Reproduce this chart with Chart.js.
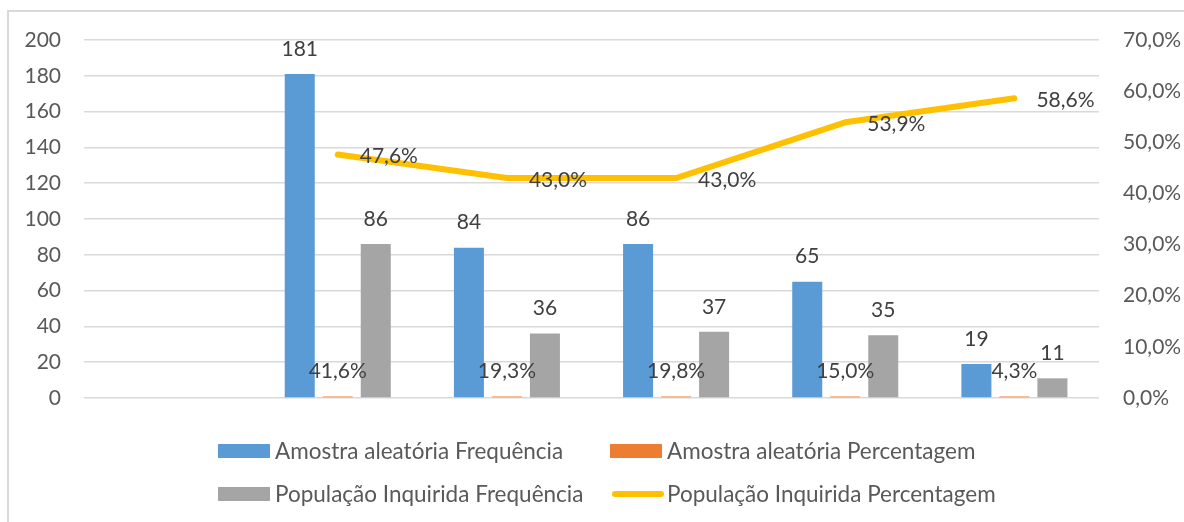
<!DOCTYPE html>
<html>
<head>
<meta charset="utf-8">
<script src="https://cdn.jsdelivr.net/npm/chart.js@4"></script>
<style>
  html, body { margin: 0; padding: 0; background: #fff; overflow: hidden; }
  #wrap { position: relative; width: 1184px; height: 522px; }
  #frame { position: absolute; left: 7px; top: 10px; width: 1300px; height: 700px;
           border-left: 2px solid #d9d9d9; border-top: 2px solid #d9d9d9; pointer-events: none; }
  canvas { position: absolute; left: 0; top: 0; }
  .lg { position: absolute; font: 22.5px Lato, sans-serif; color: #595959; white-space: nowrap; height: 24px; line-height: 24px; }
  .lg .sw { position: absolute; left: 0; top: 5px; width: 52px; height: 14px; }
  .lg .ln { position: absolute; left: 2px; top: 9px; width: 52px; height: 6px; border-radius: 3px; }
  .lg span.t { position: absolute; left: 57px; top: 0; }
</style>
</head>
<body>
<div id="wrap">
  <div id="frame"></div>
  <canvas id="c" width="1184" height="522"></canvas>
  <div id="legend"></div>
</div>
<script>
// ---- data ----
const categories = ["", "", "", "", "", ""];
const amostraFreq = [null, 181, 84, 86, 65, 19];
const amostraPct = [null, 41.6, 19.3, 19.8, 15.0, 4.3];
const populacaoFreq = [null, 86, 36, 37, 35, 11];
const populacaoPct = [null, 47.6, 43.0, 43.0, 53.9, 58.6];
const leftTicks = [0, 20, 40, 60, 80, 100, 120, 140, 160, 180, 200];
const rightTicks = [0, 10, 20, 30, 40, 50, 60, 70];
const seriesNames = ["Amostra aleatória Frequência", "Amostra aleatória Percentagem",
                     "População Inquirida Frequência", "População Inquirida Percentagem"];

const colors = ["#5B9BD5", "#ED7D31", "#A5A5A5", "#FFC000"];
const FONT = "Lato, sans-serif";
const fmtPct = v => v.toFixed(1).replace(".", ",") + "%";

const labelPlugin = {
  id: "valueLabels",
  afterDatasetsDraw(chart) {
    const ctx = chart.ctx;
    ctx.save();
    ctx.font = "21px " + FONT;
    ctx.fillStyle = "#404040";
    chart.data.datasets.forEach((ds, i) => {
      const meta = chart.getDatasetMeta(i);
      meta.data.forEach((el, j) => {
        const raw = ds.labelValues[j];
        if (raw === null || raw === undefined) return;
        const txt = ds.labelFmt(raw);
        if (ds.type === "line") {
          ctx.textAlign = "left";
          ctx.textBaseline = "middle";
          ctx.fillText(txt, el.x + 22, el.y + 2);
        } else {
          ctx.textAlign = "center";
          ctx.textBaseline = "middle";
          ctx.fillText(txt, el.x, el.y - 25);
        }
      });
    });
    ctx.restore();
  }
};

const chart = new Chart(document.getElementById("c"), {
  data: {
    labels: categories,
    datasets: [
      { type: "bar", label: seriesNames[0], data: amostraFreq, backgroundColor: colors[0],
        yAxisID: "y", order: 1, labelValues: amostraFreq, labelFmt: v => String(v) },
      { type: "bar", label: seriesNames[1], data: amostraPct.map(v => v === null ? null : v / 100),
        backgroundColor: colors[1], yAxisID: "y", order: 1, minBarLength: 1.5,
        labelValues: amostraPct, labelFmt: fmtPct },
      { type: "bar", label: seriesNames[2], data: populacaoFreq, backgroundColor: colors[2],
        yAxisID: "y", order: 1, labelValues: populacaoFreq, labelFmt: v => String(v) },
      { type: "line", label: seriesNames[3], data: populacaoPct, borderColor: colors[3],
        backgroundColor: colors[3], borderWidth: 6, pointRadius: 0, tension: 0,
        borderCapStyle: "round", borderJoinStyle: "round",
        yAxisID: "y1", order: 0, labelValues: populacaoPct, labelFmt: fmtPct }
    ]
  },
  options: {
    responsive: false,
    animation: false,
    devicePixelRatio: 1,
    layout: { padding: { left: 0, right: 0, top: 40, bottom: 124 } },
    datasets: { bar: { barPercentage: 0.79, categoryPercentage: 0.674, borderWidth: 0 } },
    plugins: { legend: { display: false }, tooltip: { enabled: false } },
    scales: {
      x: { type: "category", display: false, offset: true },
      y: {
        position: "left", min: 0, max: 200,
        afterFit: s => { s.width = 84; },
        afterBuildTicks: s => { s.ticks = leftTicks.map(v => ({ value: v })); },
        grid: { color: "#d9d9d9", lineWidth: 1.5, drawTicks: false },
        border: { display: false },
        ticks: { padding: 23, color: "#595959", font: { family: FONT, size: 21 } }
      },
      y1: {
        position: "right", min: 0, max: 70,
        afterFit: s => { s.width = 85; },
        afterBuildTicks: s => { s.ticks = rightTicks.map(v => ({ value: v })); },
        grid: { drawOnChartArea: false, drawTicks: false },
        border: { display: false },
        ticks: { padding: 24, color: "#595959", font: { family: FONT, size: 21 },
                 callback: v => fmtPct(v) }
      }
    }
  },
  plugins: [labelPlugin]
});

// ---- legend (HTML) ----
const legendPos = [[218, 439], [610, 439], [218, 482], [610, 482]];
const lg = document.getElementById("legend");
seriesNames.forEach((name, i) => {
  const d = document.createElement("div");
  d.className = "lg";
  d.style.left = legendPos[i][0] + "px";
  d.style.top = legendPos[i][1] + "px";
  const sw = document.createElement("div");
  sw.className = i === 3 ? "ln" : "sw";
  sw.style.background = colors[i];
  const t = document.createElement("span");
  t.className = "t";
  t.textContent = name;
  d.appendChild(sw); d.appendChild(t);
  lg.appendChild(d);
});
</script>
</body>
</html>
